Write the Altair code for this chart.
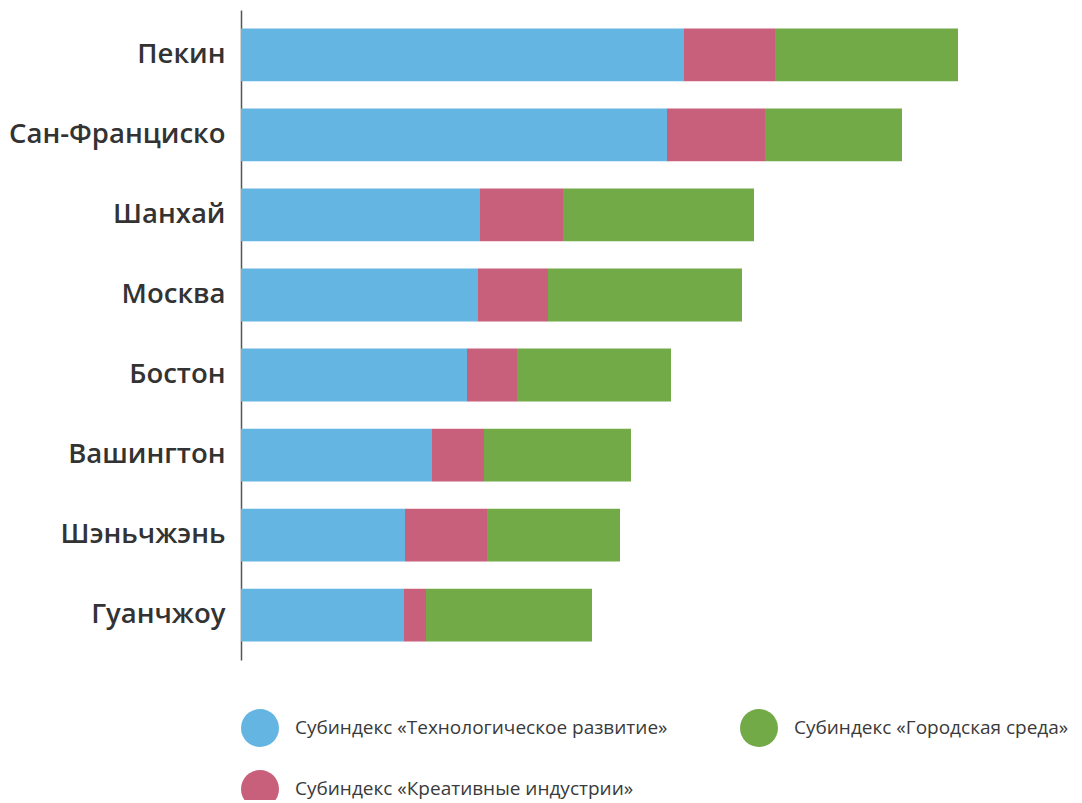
import altair as alt
import pandas as pd

cities = ["Пекин", "Сан-Франциско", "Шанхай", "Москва", "Бостон",
          "Вашингтон", "Шэньчжэнь", "Гуанчжоу"]
tech = [443, 426, 239, 237, 226, 191, 164, 163]
creative = [91, 98, 83, 70, 50, 52, 82, 22]
urban = [183, 137, 191, 194, 154, 147, 133, 166]

s_tech = "Субиндекс «Технологическое развитие»"
s_creative = "Субиндекс «Креативные индустрии»"
s_urban = "Субиндекс «Городская среда»"

rows = []
for i, c in enumerate(cities):
    rows.append({"city": c, "series": s_tech, "value": tech[i], "ord": 0})
    rows.append({"city": c, "series": s_creative, "value": creative[i], "ord": 1})
    rows.append({"city": c, "series": s_urban, "value": urban[i], "ord": 2})
df = pd.DataFrame(rows)

chart = alt.Chart(df).mark_bar().encode(
    y=alt.Y("city:N", sort=cities, title=None,
            scale=alt.Scale(paddingInner=0.34, paddingOuter=0.23),
            axis=alt.Axis(domainColor="#555555", domainWidth=1.5, ticks=False,
                          labelFont="Open Sans", labelFontSize=27.5, labelFontWeight=600,
                          labelColor="#333333", labelPadding=16, labelLimit=400)),
    x=alt.X("value:Q", stack="zero", axis=None, scale=alt.Scale(domain=[0, 820], nice=False)),
    color=alt.Color("series:N",
                    scale=alt.Scale(domain=[s_tech, s_creative, s_urban],
                                    range=["#64b5e1", "#c9607b", "#72aa48"]),
                    legend=alt.Legend(title=None, orient="none", legendX=0, legendY=699,
                                      columns=2, symbolType="circle", symbolSize=1444,
                                      symbolStrokeWidth=0, symbolOpacity=1,
                                      labelFont="Open Sans", labelFontSize=19,
                                      labelColor="#3a3a3a", labelOffset=16,
                                      columnPadding=72, rowPadding=23, labelLimit=500)),
    order=alt.Order("ord:Q"),
).properties(
    width=820, height=650,
    autosize=alt.AutoSizeParams(type="none"),
    padding={"left": 233, "top": 2, "right": 7, "bottom": 140},
).configure_view(stroke=None)

chart.save("out.html", embed_options={"renderer": "svg", "actions": False})
